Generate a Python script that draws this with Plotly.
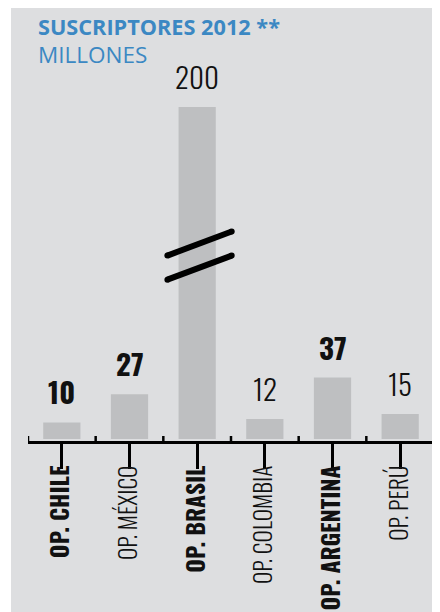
import plotly.graph_objects as go

categories = ["OP. CHILE", "OP. MÉXICO", "OP. BRASIL", "OP. COLOMBIA", "OP. ARGENTINA", "OP. PERÚ"]
values = [10, 27, 200, 12, 37, 15]
bold_category = [True, False, True, False, True, False]
bold_value = [True, True, False, False, True, False]
title_main = "SUSCRIPTORES 2012"
title_mark = "**"
subtitle = "MILLONES"

BG = "#dddee0"
BAR = "#bebfc1"
BLUE = "#3b88c3"
COND = "Oswald, Roboto Condensed, sans-serif"

# the page adds an 8px body margin; targets below are given in window pixels
OFF = 8
WIN_W, WIN_H = 440, 612
W, H = WIN_W - OFF, WIN_H - OFF
plot_left, plot_right = 28, 434       # window px
plot_top, plot_bottom = 8, 441        # window px
L = plot_left - OFF
R = W - (plot_right - OFF)
T = plot_top - OFF
B = H - (plot_bottom - OFF)
plot_h = H - T - B
px_per_unit = 1.66
ymin = -(plot_bottom - 439) / px_per_unit
ymax = ymin + plot_h / px_per_unit

def px_to_paper_x(p):
    return (p - plot_left) / (plot_right - plot_left)

def px_to_paper_y(p):
    return (plot_bottom - p) / (plot_bottom - plot_top)

idx = list(range(len(categories)))
ticktext = [f"<b>{c}</b>" if b else c for c, b in zip(categories, bold_category)]

fig = go.Figure()
fig.add_trace(go.Bar(x=idx, y=values, marker=dict(color=BAR, line=dict(width=0)),
                     width=0.55, hoverinfo="skip", showlegend=False))

# break marks on the tall bar (decorative)
bi = values.index(max(values))
for off in (0, 14.5):
    fig.add_trace(go.Scatter(x=[bi - 0.44, bi + 0.51], y=[96 + off, 110.5 + off],
                             mode="lines+markers", line=dict(color="black", width=6),
                             marker=dict(color="black", size=6), hoverinfo="skip",
                             showlegend=False, cliponaxis=False))

annotations = []
for i, (v, b) in enumerate(zip(values, bold_value)):
    annotations.append(dict(x=i, y=v, xref="x", yref="y", text=str(v),
                            showarrow=False, yanchor="bottom", yshift=8,
                            font=dict(family=COND, size=29, color="#111",
                                      weight=700 if b else 300)))
annotations.append(dict(x=px_to_paper_x(36), y=px_to_paper_y(9.5), xref="paper", yref="paper",
                        xanchor="left", yanchor="top", showarrow=False,
                        text=f"<b>{title_main} {title_mark}</b>",
                        font=dict(family="Open Sans", size=21.7, color=BLUE)))
annotations.append(dict(x=px_to_paper_x(36), y=px_to_paper_y(36.5), xref="paper", yref="paper",
                        xanchor="left", yanchor="top", showarrow=False, text=subtitle,
                        font=dict(family="Open Sans", size=22.5, color=BLUE)))

shapes = [dict(type="rect", xref="paper", yref="paper", layer="below",
               x0=px_to_paper_x(11), x1=px_to_paper_x(435), y0=px_to_paper_y(WIN_H + 5), y1=px_to_paper_y(0),
               fillcolor=BG, line=dict(width=0))]
# small upward stubs of the boundary ticks
for i in range(len(categories) + 1):
    shapes.append(dict(type="line", xref="x", yref="y", x0=i - 0.5, x1=i - 0.5,
                       y0=ymin, y1=ymin + 5 / px_per_unit, line=dict(color="black", width=2.5)))

fig.update_layout(
    width=W, height=H, margin=dict(l=L, r=R, t=T, b=B, pad=0),
    paper_bgcolor="white", plot_bgcolor="rgba(0,0,0,0)",
    annotations=annotations, shapes=shapes,
    xaxis=dict(range=[-0.5, len(categories) - 0.5], tickmode="array", tickvals=idx, ticktext=ticktext,
               tickson="boundaries", ticks="outside", ticklen=25, tickwidth=2.5, tickcolor="black",
               showline=True, linecolor="black", linewidth=3.3, showgrid=False, zeroline=False,
               tickangle=-90, tickfont=dict(family=COND, size=23.5, color="#111", weight=300),
               ticklabelstandoff=-13, automargin=False, fixedrange=True),
    yaxis=dict(range=[ymin, ymax], visible=False, fixedrange=True, automargin=False),
)

fig.write_html("out.html")
